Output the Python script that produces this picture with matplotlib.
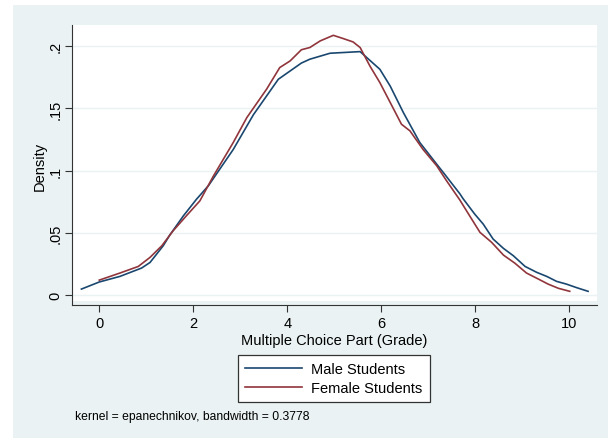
import matplotlib
matplotlib.use("Agg")
import matplotlib.pyplot as plt
from matplotlib.patches import Rectangle

plt.rcParams['font.family'] = ['Liberation Sans', 'DejaVu Sans']

# kernel density estimates
male_x = [-0.38, 0.0, 0.44, 0.90, 1.08, 1.36, 1.50, 1.79, 2.07, 2.32, 2.85, 3.28,
          3.81, 4.30, 4.48, 4.91, 5.55, 5.97, 6.19, 6.47, 6.82, 7.18, 7.32, 7.67,
          7.74, 7.99, 8.17, 8.38, 8.60, 8.81, 9.06, 9.31, 9.52, 9.73, 9.94, 10.16, 10.40]
male_y = [0.0048, 0.0105, 0.015, 0.0217, 0.0262, 0.0396, 0.0482, 0.0637, 0.0771, 0.0878,
          0.117, 0.145, 0.1735, 0.1865, 0.1896, 0.1944, 0.1957, 0.1815, 0.168, 0.1467,
          0.1226, 0.1052, 0.0985, 0.0815, 0.0775, 0.065, 0.057, 0.045, 0.0375, 0.0316,
          0.023, 0.0182, 0.015, 0.011, 0.0088, 0.0059, 0.003]

female_x = [0.0, 0.44, 0.83, 1.08, 1.33, 1.57, 1.86, 2.14, 2.43, 2.85, 3.14, 3.56, 3.84,
            4.06, 4.30, 4.48, 4.70, 4.98, 5.19, 5.40, 5.55, 5.76, 5.97, 6.19, 6.43, 6.61,
            6.89, 7.18, 7.39, 7.67, 7.88, 8.10, 8.35, 8.60, 8.84, 9.09, 9.34, 9.55, 9.77, 10.01]
female_y = [0.012, 0.0177, 0.023, 0.0303, 0.0396, 0.0516, 0.064, 0.0757, 0.0958, 0.1226,
            0.1427, 0.1655, 0.1829, 0.1882, 0.1972, 0.199, 0.2043, 0.2088, 0.2062, 0.2035,
            0.199, 0.184, 0.1708, 0.1548, 0.1373, 0.132, 0.117, 0.1039, 0.0918, 0.0765,
            0.0637, 0.0504, 0.0423, 0.0321, 0.0257, 0.0177, 0.0129, 0.0088, 0.0054, 0.003]

y_ticks = [0, 0.05, 0.1, 0.15, 0.2]
y_labels = ['0', '.05', '.1', '.15', '.2']
x_ticks = [0, 2, 4, 6, 8, 10]

navy = '#1a476f'
maroon = '#90353b'
panel = '#eaf2f3'

fig = plt.figure(figsize=(6.08, 4.39), dpi=100)
fig.patch.set_facecolor('white')
# Stata-style graph region, kept behind the axes
fig.patches.append(Rectangle((13 / 608, 0), 1 - 13 / 608, 433 / 439,
                             transform=fig.transFigure, facecolor=panel,
                             edgecolor='none', zorder=-10))

ax = fig.add_axes([72.3 / 608, 133 / 439, (597 - 72.3) / 608, (306 - 26) / 439])
ax.set_facecolor(panel)
# white plot region stops a few pixels above the x axis line, as in Stata
ax.add_patch(Rectangle((0, 0.014), 1, 0.986, transform=ax.transAxes,
                       facecolor='white', edgecolor='none', zorder=-5))

ax.plot(male_x, male_y, color=navy, lw=1.2, label='Male Students')
ax.plot(female_x, female_y, color=maroon, lw=1.2, label='Female Students')

ax.set_xlim(-0.574, 10.59)
ax.set_ylim(-0.008, 0.2171)
ax.set_xticks(x_ticks)
ax.set_yticks(y_ticks)
ax.set_yticklabels(y_labels, rotation=90, va='center')
ax.tick_params(axis='both', labelsize=10.5, length=5, width=0.8, color='#333333')
ax.tick_params(axis='x', pad=3)
ax.tick_params(axis='y', pad=2)
ax.grid(axis='y', color=panel, lw=1.0, zorder=-4)
ax.set_axisbelow(True)

for side in ['top', 'right']:
    ax.spines[side].set_visible(False)
for side in ['left', 'bottom']:
    ax.spines[side].set_color('#333333')
    ax.spines[side].set_linewidth(0.8)

ax.set_xlabel('Multiple Choice Part (Grade)', fontsize=10.5, labelpad=2)
ax.set_ylabel('Density', fontsize=10.5, labelpad=1)

leg = fig.legend(loc='upper center', bbox_to_anchor=(0.549, 0.1897), fontsize=10.5,
                 frameon=True, fancybox=False, edgecolor='#333333', facecolor='white',
                 framealpha=1, borderpad=0.5, labelspacing=0.33, handlelength=3.86,
                 handletextpad=0.64, borderaxespad=0)
leg.get_frame().set_linewidth(0.9)

fig.text(75 / 608, 1 - 417 / 439, 'kernel = epanechnikov, bandwidth = 0.3778',
         fontsize=8.7, va='center', ha='left')

fig.savefig('out.png', dpi=100, facecolor=fig.get_facecolor())
